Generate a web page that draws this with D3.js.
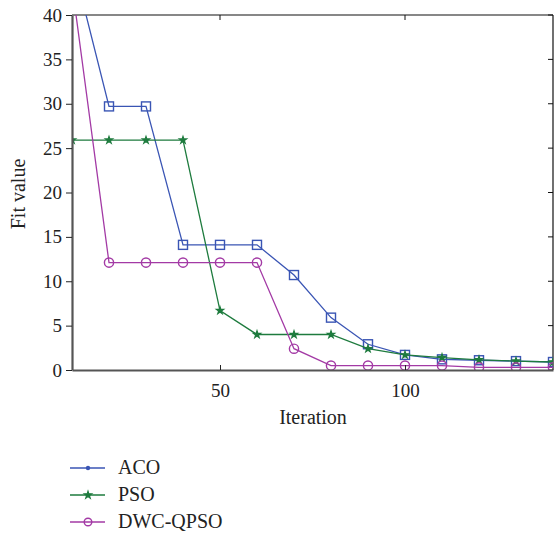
<!DOCTYPE html>
<html><head><meta charset="utf-8">
<script src="https://cdn.jsdelivr.net/npm/d3@7"></script>
<style>body{margin:0;background:#fff}svg{display:block}svg text{font-family:"Liberation Serif","Tinos","Times New Roman","DejaVu Serif",serif !important;fill:#222}</style>
</head><body>
<script>
const iterations = [10,20,30,40,50,60,70,80,90,100,110,120,130,140];
const aco = [46.3,29.7,29.7,14.1,14.1,14.1,10.7,5.9,2.9,1.7,1.2,1.1,1.0,0.9];
const pso = [25.9,25.9,25.9,25.9,6.7,4.0,4.0,4.0,2.4,1.7,1.4,1.15,1.0,0.9];
const dwc = [43.4,12.1,12.1,12.1,12.1,12.1,2.4,0.5,0.5,0.5,0.5,0.3,0.3,0.3];
const xTicks = [50,100];
const yTicks = [0,5,10,15,20,25,30,35,40];
const seriesNames = ["ACO","PSO","DWC-QPSO"];

const W=556,H=534;
const L=72,R=553,T=15,B=370;
const svg=d3.select("body").append("svg").attr("width",W).attr("height",H);
const x=d3.scaleLinear().domain([10,140]).range([L,R]);
const y=d3.scaleLinear().domain([0,40]).range([B,T]);

svg.append("defs").append("clipPath").attr("id","c").append("rect")
  .attr("x",L).attr("y",T).attr("width",R-L).attr("height",B-T);

const series=[
 {name:seriesNames[0],vals:aco,color:"#3a55b4",marker:"square"},
 {name:seriesNames[1],vals:pso,color:"#1e7b3e",marker:"star"},
 {name:seriesNames[2],vals:dwc,color:"#a33aa5",marker:"circle"}
];

svg.append("line").attr("x1",L).attr("x2",R).attr("y1",T).attr("y2",T).attr("stroke","#111").attr("stroke-width",1.2);
svg.append("line").attr("x1",R).attr("x2",R).attr("y1",T).attr("y2",B).attr("stroke","#111").attr("stroke-width",1.2);
xTicks.forEach(t=>svg.append("line").attr("x1",x(t)).attr("x2",x(t)).attr("y1",T).attr("y2",T+5).attr("stroke","#111"));
yTicks.forEach(t=>svg.append("line").attr("x1",R).attr("x2",R-5).attr("y1",y(t)).attr("y2",y(t)).attr("stroke","#111"));

const g=svg.append("g").attr("clip-path","url(#c)");
const line=d3.line().x((d,i)=>x(iterations[i])).y(d=>y(d));
function marker(sel,type,color,big){
  if(type==="square"){
    if(big) sel.append("rect").attr("x",-4.5).attr("y",-4.5).attr("width",9).attr("height",9).attr("fill","none").attr("stroke",color).attr("stroke-width",1.4);
    else sel.append("circle").attr("r",2.2).attr("fill",color);
  } else if(type==="star"){
    sel.append("path").attr("d",d3.symbol(d3.symbolStar, 16)()).attr("fill",color).attr("stroke",color).attr("stroke-width",1.2);
  } else {
    sel.append("circle").attr("r",big?4.6:3.8).attr("fill","none").attr("stroke",color).attr("stroke-width",1.4);
  }
}
series.forEach(s=>{
  g.append("path").datum(s.vals).attr("d",line).attr("fill","none").attr("stroke",s.color).attr("stroke-width",1.3);
  s.vals.forEach((v,i)=>{
    const m=g.append("g").attr("transform",`translate(${x(iterations[i])},${y(v)})`);
    marker(m,s.marker,s.color,true);
  });
});

const xa=svg.append("g").attr("transform",`translate(0,${B})`)
  .call(d3.axisBottom(x).tickValues(xTicks).tickSizeInner(-5).tickSizeOuter(0).tickPadding(14));
xa.select(".domain").attr("stroke","#555").attr("stroke-width",2.2);
xa.selectAll(".tick line").attr("stroke","#222");
xa.selectAll("text").attr("font-size",19);
const ya=svg.append("g").attr("transform",`translate(${L},0)`)
  .call(d3.axisLeft(y).tickValues(yTicks).tickSizeInner(6).tickSizeOuter(0).tickPadding(4));
ya.select(".domain").attr("stroke","#555").attr("stroke-width",2.2);
ya.selectAll(".tick line").attr("stroke","#222");
ya.selectAll("text").attr("font-size",19);

svg.append("text").attr("x",313).attr("y",424).attr("text-anchor","middle").attr("font-size",20).text("Iteration");
svg.append("text").attr("transform","translate(25,194) rotate(-90)").attr("text-anchor","middle").attr("font-size",20).text("Fit value");

series.forEach((s,i)=>{
  const ly=468+i*27;
  svg.append("line").attr("x1",70).attr("x2",105).attr("y1",ly).attr("y2",ly).attr("stroke",s.color).attr("stroke-width",1.3);
  const m=svg.append("g").attr("transform",`translate(88,${ly})`);
  marker(m,s.marker,s.color,false);
  svg.append("text").attr("x",118).attr("y",ly+6).attr("font-size",20).text(s.name);
});
</script>
</body></html>
